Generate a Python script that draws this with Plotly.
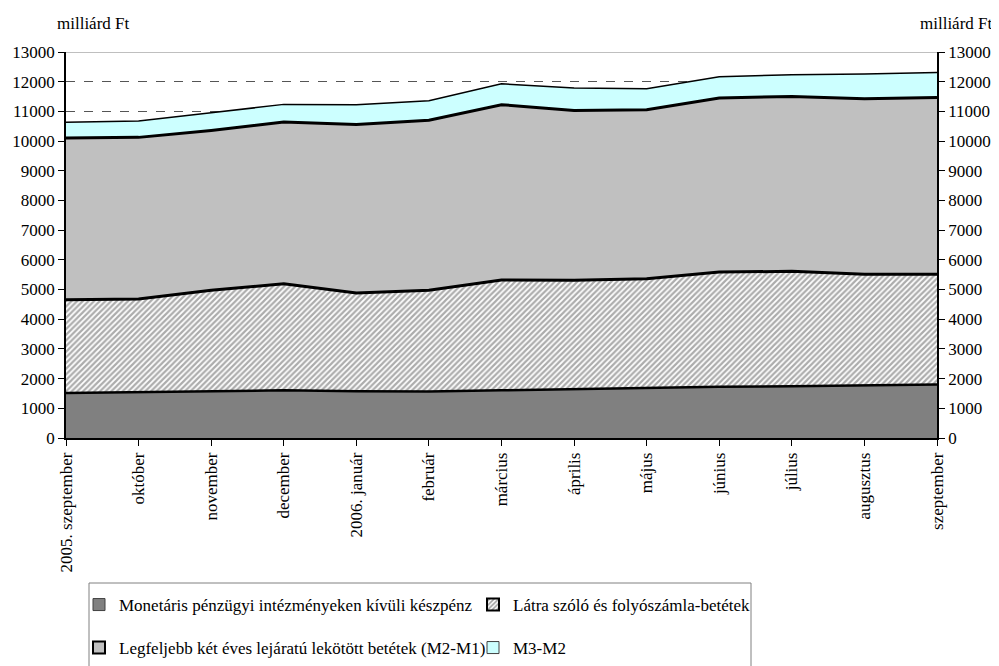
import plotly.graph_objects as go

months = ["2005. szeptember", "október", "november", "december", "2006. január",
          "február", "március", "április", "május", "június", "július",
          "augusztus", "szeptember"]

currency = [1515, 1549, 1596, 1606, 1572, 1562, 1606, 1650, 1673, 1730, 1740, 1774, 1798]
demand = [3145, 3131, 3377, 3592, 3310, 3411, 3714, 3660, 3694, 3859, 3873, 3738, 3714]
time_dep = [5440, 5445, 5387, 5442, 5680, 5727, 5905, 5723, 5688, 5859, 5892, 5915, 5959]
m3_m2 = [530, 548, 590, 596, 663, 660, 705, 752, 709, 720, 731, 829, 842]

names = ["Monetáris pénzügyi intézményeken kívüli készpénz",
         "Látra szóló és folyószámla-betétek",
         "Legfeljebb két éves lejáratú lekötött betétek (M2-M1)",
         "M3-M2"]

yticks = list(range(0, 13001, 1000))

# page body has an 8px margin; work in screen coordinates and shift
OFF = 8
W, H = 991, 658
SL, SR, ST, SB = 66, 937, 52, 438          # plot area in screen px
L, T = SL - OFF, ST - OFF
R = W - (SR - OFF)
B = H - (SB - OFF)
PW, PH = W - L - R, H - T - B

def px(xs):
    return (xs - OFF - L) / PW

def py(ys):
    return (H - B - (ys - OFF)) / PH

FONT = "Liberation Serif, Times New Roman, serif"
x = list(range(len(months)))

fig = go.Figure()
fig.add_trace(go.Scatter(x=x, y=currency, stackgroup="s", mode="lines",
                         line=dict(color="black", width=2.5),
                         fillcolor="#808080", showlegend=False, hoverinfo="skip"))
fig.add_trace(go.Scatter(x=x, y=demand, stackgroup="s", mode="lines",
                         line=dict(color="black", width=3),
                         fillcolor="white",
                         fillpattern=dict(shape="/", size=4, solidity=0.55,
                                          fgcolor="#5a5a5a", bgcolor="white"),
                         showlegend=False, hoverinfo="skip"))
fig.add_trace(go.Scatter(x=x, y=time_dep, stackgroup="s", mode="lines",
                         line=dict(color="black", width=3),
                         fillcolor="#c0c0c0", showlegend=False, hoverinfo="skip"))
fig.add_trace(go.Scatter(x=x, y=m3_m2, stackgroup="s", mode="lines",
                         line=dict(color="black", width=1.5),
                         fillcolor="#ccffff", showlegend=False, hoverinfo="skip"))

# dummy trace for right axis
fig.add_trace(go.Scatter(x=[None], y=[None], yaxis="y2", showlegend=False,
                         hoverinfo="skip"))

# legend entries (bars with no data)
leg_specs = [
    (names[0], "#808080", "#404040", 1, "", "legend"),
    (names[1], "white", "black", 2, "/", "legend"),
    (names[2], "#c0c0c0", "black", 2, "", "legend2"),
    (names[3], "#ccffff", "#404040", 1, "", "legend2"),
]
for nm, fc, lc, lw, pat, lg in leg_specs:
    fig.add_trace(go.Bar(x=[None], y=[None], name=nm, legend=lg,
                         marker=dict(color=fc, line=dict(color=lc, width=lw),
                                     pattern=dict(shape=pat, size=4, solidity=0.5,
                                                  fgcolor="#404040", bgcolor="white")
                                     if pat else None),
                         hoverinfo="skip"))

axis_font = dict(family=FONT, size=17, color="black")
leg_common = dict(orientation="h", xanchor="left", yanchor="middle",
                  entrywidth=349, entrywidthmode="pixels", traceorder="normal",
                  font=axis_font, bgcolor="rgba(0,0,0,0)", itemclick=False)

fig.update_layout(
    width=W, height=H,
    margin=dict(l=L, r=R, t=T, b=B, autoexpand=False),
    paper_bgcolor="white", plot_bgcolor="white",
    font=axis_font,
    xaxis=dict(range=[0, 12], tickmode="array", tickvals=x, ticktext=months,
               tickangle=-90, ticks="outside", ticklen=6, tickcolor="black",
               showline=True, linecolor="black", linewidth=1.5, automargin=False,
               showgrid=False, zeroline=False, tickfont=axis_font),
    yaxis=dict(range=[0, 13000], tickmode="array", tickvals=yticks,
               ticktext=[str(v) for v in yticks], ticks="outside", ticklen=6,
               tickcolor="black", showline=True, linecolor="black", linewidth=1.5,
               showgrid=True, gridcolor="#555555", griddash="dash", gridwidth=1,
               zeroline=False, automargin=False, tickfont=axis_font),
    yaxis2=dict(range=[0, 13000], tickmode="array", tickvals=yticks,
                ticktext=[str(v) for v in yticks], overlaying="y", side="right",
                ticks="outside", ticklen=6, tickcolor="black", showline=True,
                linecolor="black", linewidth=1.5, showgrid=False, zeroline=False,
                automargin=False, tickfont=axis_font),
    legend=dict(x=px(79), y=py(605), **leg_common),
    legend2=dict(x=px(79), y=py(648), **leg_common),
    showlegend=True,
    shapes=[
        dict(type="line", xref="paper", yref="y", x0=0, x1=1, y0=13000, y1=13000,
             line=dict(color="#808080", width=1)),
        dict(type="rect", xref="paper", yref="paper", x0=px(89), x1=px(751),
             y0=py(583), y1=py(700), line=dict(color="#808080", width=1),
             fillcolor="rgba(0,0,0,0)"),
    ],
    annotations=[
        dict(text="milliárd Ft", xref="paper", yref="paper", x=px(55), y=py(24),
             xanchor="left", yanchor="middle", showarrow=False, font=axis_font),
        dict(text="milliárd Ft", xref="paper", yref="paper", x=px(995), y=py(24),
             xanchor="right", yanchor="middle", showarrow=False, font=axis_font),
    ],
)

fig.write_html("out.html")
